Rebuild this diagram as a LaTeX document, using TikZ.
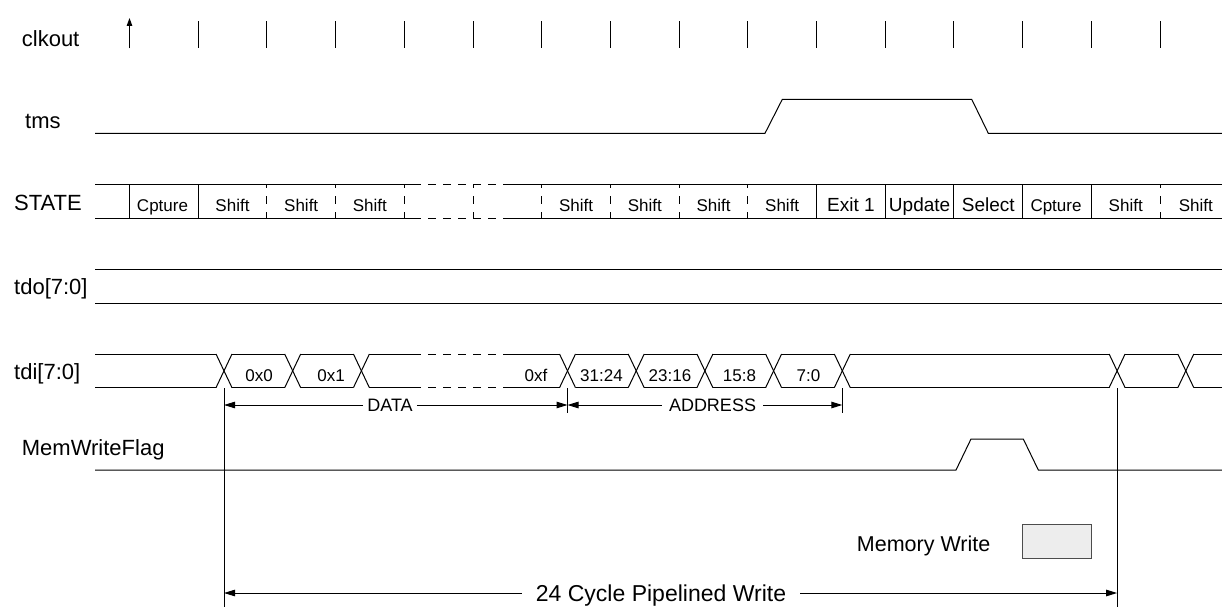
\documentclass[tikz,border=0pt]{standalone}
\usepackage{fontspec}
\setmainfont{Liberation Sans}
\usetikzlibrary{arrows.meta}
\tikzset{
  sig/.style={line width=1pt, line join=miter},
  lbl/.style={font=\fontsize{22}{25}\selectfont, anchor=base west, inner sep=0pt},
  st/.style={font=\fontsize{17}{20}\selectfont, anchor=base, inner sep=0pt},
  stb/.style={font=\fontsize{19}{22}\selectfont, anchor=base, inner sep=0pt},
  hdash/.style={sig, dash pattern=on 8pt off 7pt, dash phase=8pt},
  vdash/.style={sig, dash pattern=on 8pt off 8pt, dash phase=4pt},
  arr/.style={sig, -{Triangle[length=11pt,width=6.5pt]}},
  meas/.style={font=\fontsize{18}{21}\selectfont, inner ysep=0pt},
}
\begin{document}
\begin{tikzpicture}[x=1pt,y=-1pt]
\useasboundingbox (0,0) rectangle (1222,607);

% ---------- signal labels ----------
\node[lbl] (lclk) at (21.7,46.6) {clkout};
\node[lbl] (ltms) at (25,128.3) {tms};
\node[lbl] (lstate) at (14,210) {STATE};
\node[lbl] (ltdo) at (14,294.8) {tdo[7:0]};
\node[lbl] (ltdi) at (14,379.5) {tdi[7:0]};
\node[lbl] (lmwf) at (21.7,455.5) {MemWriteFlag};

% ---------- clkout ----------
\draw[sig, -{Triangle[length=8pt,width=5.5pt]}] (129.5,48.3) -- (129.5,18);
\foreach \k in {1,...,15}{
  \draw[sig] ({129.5+68.7*\k},21.5) -- ({129.5+68.7*\k},48.3);
}

% ---------- tms ----------
\draw[sig] (95,133.3) -- (765,133.3) -- (782.3,99.3) -- (971.7,99.3) -- (988.3,133.3) -- (1222,133.3);

% ---------- STATE ----------
\foreach \y in {184.3,218.7}{
  \draw[sig] (95,\y) -- (421,\y);
  \draw[hdash] (421,\y) -- (507,\y);
  \draw[sig] (507,\y) -- (1222,\y);
}
\foreach \k in {0,1,10,11,12,13,14}{
  \draw[sig] ({129.5+68.7*\k},184.3) -- ({129.5+68.7*\k},218.7);
}
\foreach \k in {2,...,9,15}{
  \draw[vdash] ({129.5+68.7*\k},184.3) -- ({129.5+68.7*\k},218.7);
}
\node[st] (s0) at (162.5,211.5) {Cpture};
\node[st] (s1) at (232.5,211.5) {Shift};
\node[st] (s2) at (301.2,211.5) {Shift};
\node[st] (s3) at (369.9,211.5) {Shift};
\node[st] (s6) at (576.1,211.5) {Shift};
\node[st] (s7) at (644.8,211.5) {Shift};
\node[st] (s8) at (713.5,211.5) {Shift};
\node[st] (s9) at (782.2,211.5) {Shift};
\node[stb] (s10) at (850.9,211.5) {Exit 1};
\node[stb] (s11) at (919.6,211.5) {Update};
\node[stb] (s12) at (988.3,211.5) {Select};
\node[st] (s13) at (1056,211.5) {Cpture};
\node[st] (s14) at (1125.7,211.5) {Shift};
\node[st] (s15) at (1195.8,211.5) {Shift};

% ---------- tdo ----------
\draw[sig] (95,269.3) -- (1222,269.3);
\draw[sig] (95,303.3) -- (1222,303.3);

% ---------- tdi ----------
\foreach \y in {354,387.7}{
  \foreach \a/\b in {95/216, 232/284.7, 300.7/353.4, 369.4/421, 507/559.5, 575.5/628.2,
                     644.2/696.9, 712.9/765.6, 781.6/834.3, 850.3/1109.1, 1125.1/1177.8, 1193.8/1222}{
    \draw[sig] (\a,\y) -- (\b,\y);
  }
  \draw[hdash] (421,\y) -- (507,\y);
}
\foreach \k in {0,1,2,5,6,7,8,9,13,14}{
  \draw[sig] ({224+68.7*\k-8},354) -- ({224+68.7*\k+8},387.7);
  \draw[sig] ({224+68.7*\k-8},387.7) -- ({224+68.7*\k+8},354);
}
\node[st] (d0) at (259,381) {0x0};
\node[st] (d1) at (331,381) {0x1};
\node[st] (df) at (536,381) {0xf};
\node[st] (a3) at (601.5,381) {31:24};
\node[st] (a2) at (670,381) {23:16};
\node[st] (a1) at (739.5,381) {15:8};
\node[st] (a0) at (808.5,381) {7:0};

% ---------- measurement lines ----------
\coordinate (vA) at (224,388);
\coordinate (vAb) at (224,607);
\coordinate (vB) at (567.5,388);
\coordinate (vBb) at (567.5,413);
\coordinate (vC) at (842.3,388);
\coordinate (vCb) at (842.3,413);
\coordinate (vD) at (1117.1,388);
\coordinate (vDb) at (1117.1,607);
\draw[sig] (vA) -- (vAb);
\draw[sig] (vB) -- (vBb);
\draw[sig] (vC) -- (vCb);
\draw[sig] (vD) -- (vDb);

\node[meas, inner xsep=4pt] (data) at (390,405) {DATA};
\draw[arr] (data.west) -- (data.west -| vA);
\draw[arr] (data.east) -- (data.east -| vB);

\node[meas, inner xsep=7pt] (addr) at (712.5,405) {ADDRESS};
\draw[arr] (addr.west) -- (addr.west -| vB);
\draw[arr] (addr.east) -- (addr.east -| vC);

% ---------- MemWriteFlag ----------
\draw[sig] (95,470) -- (956,470) -- (971,439) -- (1023.3,439) -- (1038.3,470) -- (1222,470);

% ---------- legend ----------
\node[font=\fontsize{21.5}{24}\selectfont, anchor=base west, inner sep=0pt] (mwt) at (856.7,551) {Memory Write};
\node[draw=black!70, fill=black!7, line width=1pt, minimum width=69.4pt, minimum height=34.3pt, inner sep=0pt] (mwbox) at (1057,541.2) {};

% ---------- 24 cycle ----------
\node[font=\fontsize{23}{27}\selectfont, inner xsep=14pt, inner ysep=0pt, text depth=0pt] (cyc) at (661,593) {24 Cycle Pipelined Write};
\draw[arr] (cyc.west) -- (cyc.west -| vA);
\draw[arr] (cyc.east) -- (cyc.east -| vD);
\end{tikzpicture}
\end{document}
